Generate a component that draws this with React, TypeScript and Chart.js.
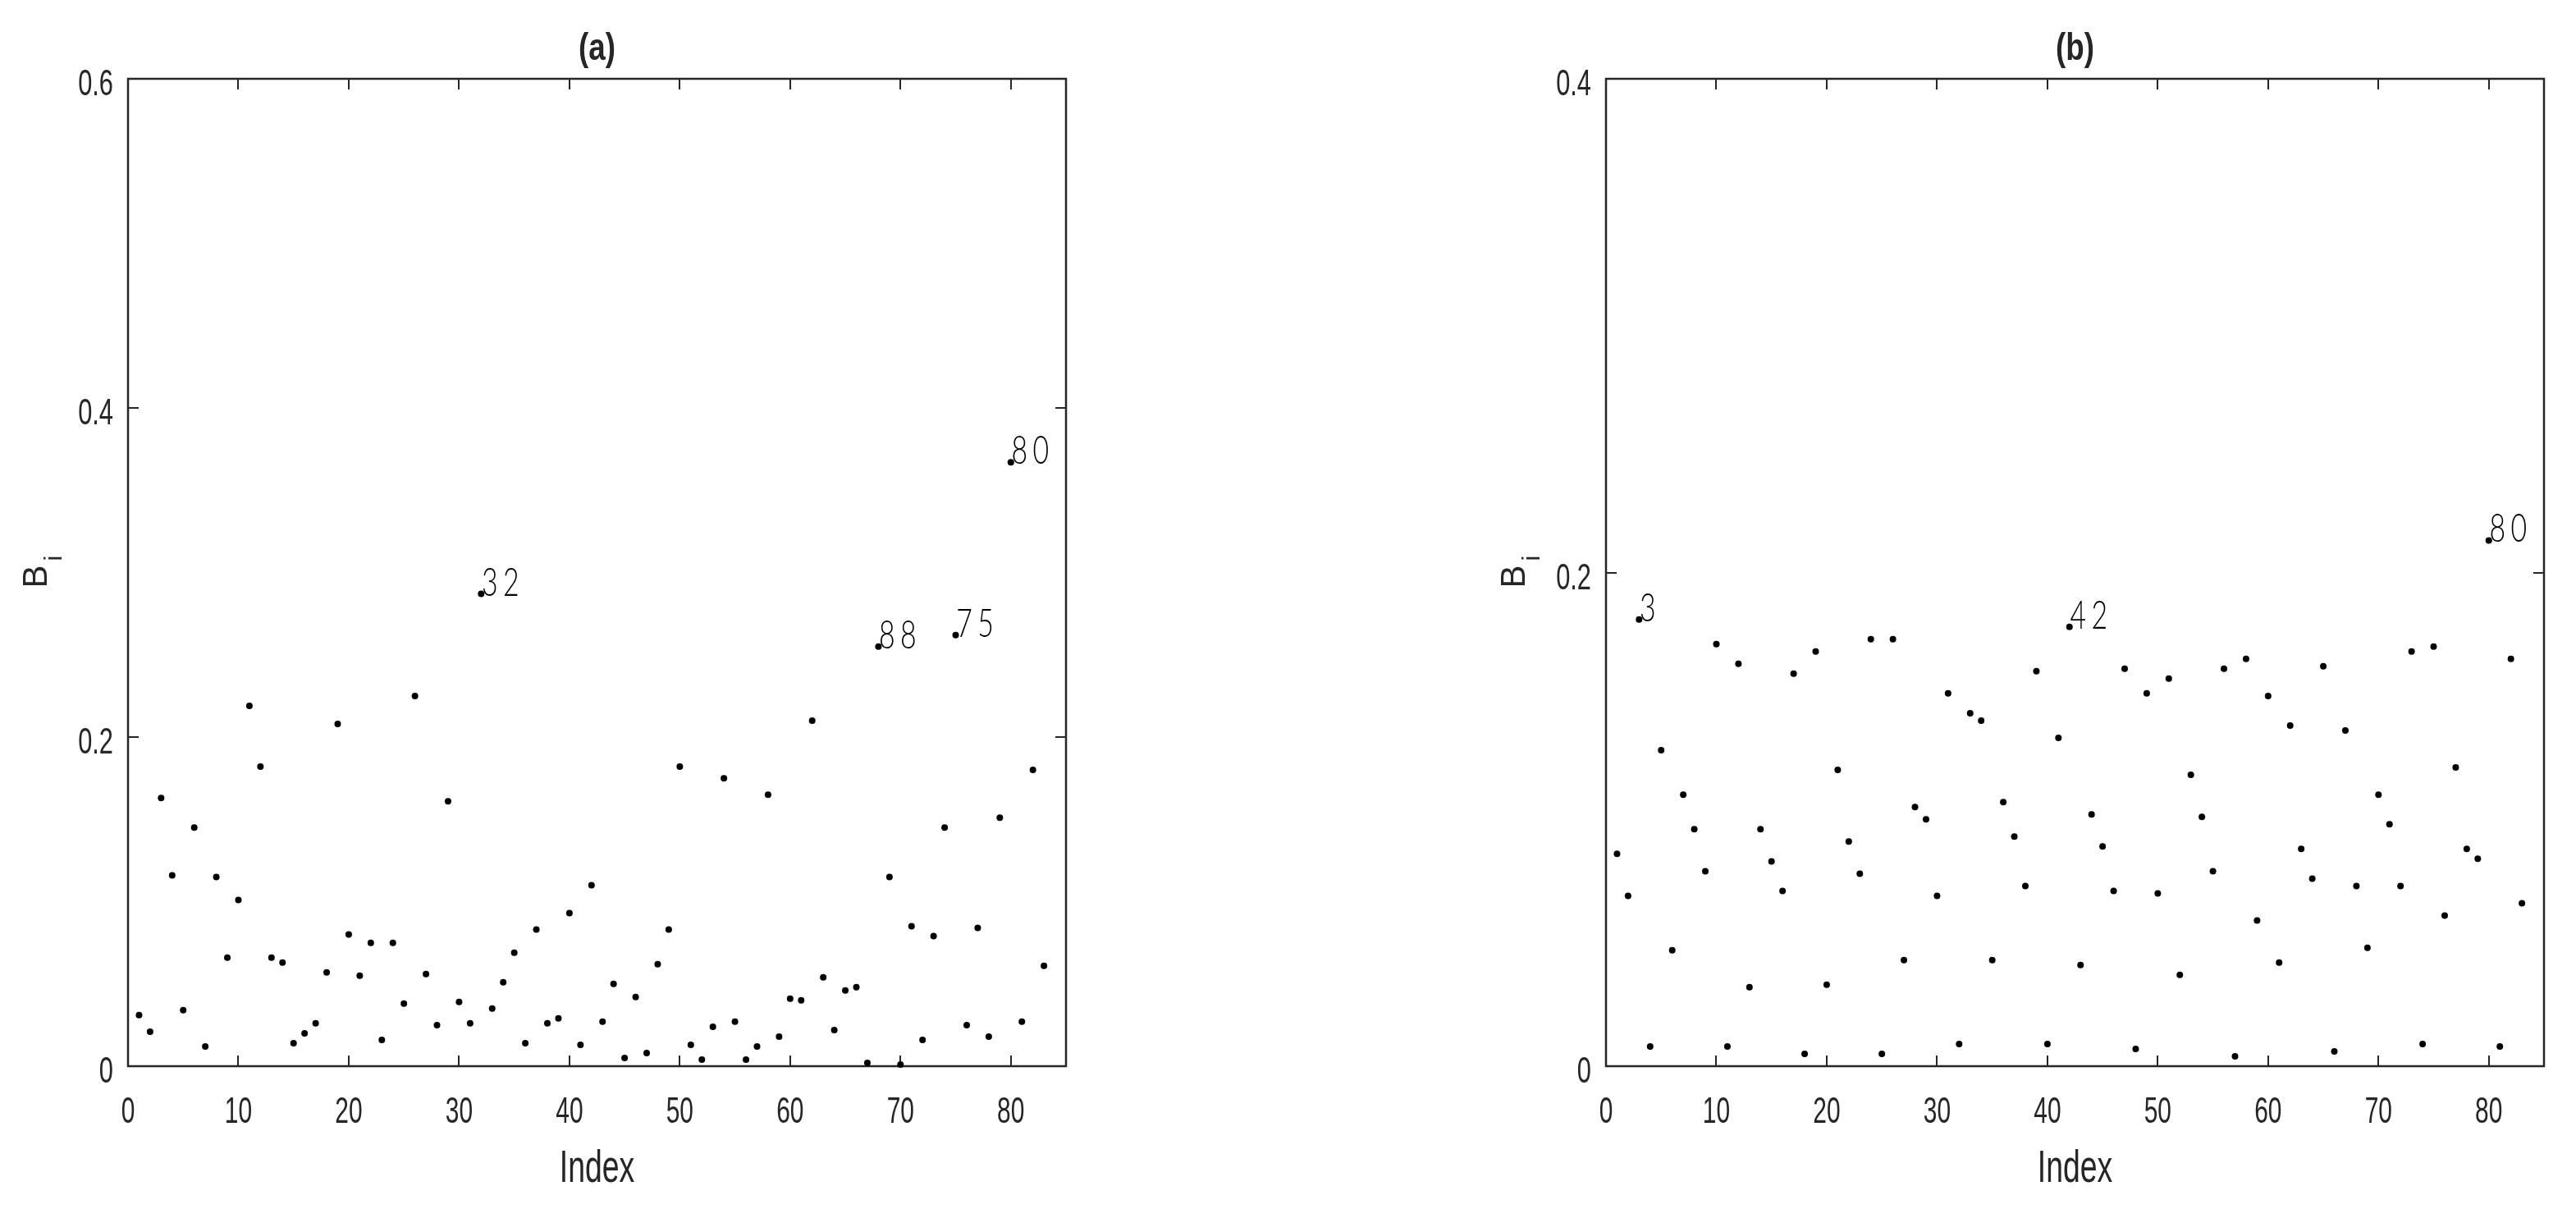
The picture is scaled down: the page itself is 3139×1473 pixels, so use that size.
import React, { useEffect, useRef } from 'react';
import { Chart, registerables } from 'chart.js';

Chart.register(...registerables);

// ---- data ----
const indices = [
  1, 2, 3, 4, 5, 6, 7, 8, 9, 10, 11, 12, 13, 14, 15, 16, 17, 18, 19, 20,
  21, 22, 23, 24, 25, 26, 27, 28, 29, 30, 31, 32, 33, 34, 35, 36, 37, 38, 39, 40,
  41, 42, 43, 44, 45, 46, 47, 48, 49, 50, 51, 52, 53, 54, 55, 56, 57, 58, 59, 60,
  61, 62, 63, 64, 65, 66, 67, 68, 69, 70, 71, 72, 73, 74, 75, 76, 77, 78, 79, 80,
  81, 82, 83,
];

const valuesA = [
  0.031, 0.021, 0.163, 0.116, 0.034, 0.145, 0.012, 0.115, 0.066, 0.101,
  0.219, 0.182, 0.066, 0.063, 0.014, 0.020, 0.026, 0.057, 0.208, 0.080,
  0.055, 0.075, 0.016, 0.075, 0.038, 0.225, 0.056, 0.025, 0.161, 0.039,
  0.026, 0.287, 0.035, 0.051, 0.069, 0.014, 0.083, 0.026, 0.029, 0.093,
  0.013, 0.110, 0.027, 0.050, 0.005, 0.042, 0.008, 0.062, 0.083, 0.182,
  0.013, 0.004, 0.024, 0.175, 0.027, 0.004, 0.012, 0.165, 0.018, 0.041,
  0.040, 0.210, 0.054, 0.022, 0.046, 0.048, 0.002, 0.255, 0.115, 0.001,
  0.085, 0.016, 0.079, 0.145, 0.262, 0.025, 0.084, 0.018, 0.151, 0.367,
  0.027, 0.180, 0.061,
];

const valuesB = [
  0.086, 0.069, 0.181, 0.008, 0.128, 0.047, 0.110, 0.096, 0.079, 0.171,
  0.008, 0.163, 0.032, 0.096, 0.083, 0.071, 0.159, 0.005, 0.168, 0.033,
  0.120, 0.091, 0.078, 0.173, 0.005, 0.173, 0.043, 0.105, 0.100, 0.069,
  0.151, 0.009, 0.143, 0.140, 0.043, 0.107, 0.093, 0.073, 0.160, 0.009,
  0.133, 0.178, 0.041, 0.102, 0.089, 0.071, 0.161, 0.007, 0.151, 0.070,
  0.157, 0.037, 0.118, 0.101, 0.079, 0.161, 0.004, 0.165, 0.059, 0.150,
  0.042, 0.138, 0.088, 0.076, 0.162, 0.006, 0.136, 0.073, 0.048, 0.110,
  0.098, 0.073, 0.168, 0.009, 0.170, 0.061, 0.121, 0.088, 0.084, 0.213,
  0.008, 0.165, 0.066,
];

const xTicks = [0, 10, 20, 30, 40, 50, 60, 70, 80];
const yTicksA = [0, 0.2, 0.4, 0.6];
const yTicksB = [0, 0.2, 0.4];

const notesAIndex = [32, 68, 75, 80];
const notesAText = ['32', '88', '75', '80'];
const notesBIndex = [3, 42, 80];
const notesBText = ['3', '42', '80'];

const titleA = '(a)';
const titleB = '(b)';
const xTitle = 'Index';
const yTitleMain = 'B';
const yTitleSub = 'i';

// ---- styling ----
const INK = '#262626';
const SANS = "'Liberation Sans', Arial, Helvetica, sans-serif";
const THIN = "Lato, 'DejaVu Sans', sans-serif";
const W = 3139;
const H = 1473;

function drawText(
  ctx: CanvasRenderingContext2D,
  text: string,
  x: number,
  y: number,
  font: string,
  align: CanvasTextAlign,
  sx: number
) {
  ctx.save();
  ctx.translate(x, y);
  ctx.scale(sx, 1);
  ctx.font = font;
  ctx.textAlign = align;
  ctx.textBaseline = 'alphabetic';
  ctx.fillText(text, 0, 0);
  ctx.restore();
}

function makeFramePlugin(yTicks: number[], title: string, values: number[], noteIdx: number[], noteText: string[]) {
  return {
    id: 'matlabFrame',
    beforeDatasetsDraw(chart: any) {
      const ctx: CanvasRenderingContext2D = chart.ctx;
      const { left, right, top, bottom } = chart.chartArea;
      const xs = chart.scales.x;
      const ys = chart.scales.y;
      ctx.save();
      ctx.strokeStyle = INK;
      ctx.fillStyle = INK;
      ctx.lineWidth = 2.5;
      ctx.beginPath();
      ctx.rect(left, top, right - left, bottom - top);
      ctx.stroke();

      const tl = 13;
      ctx.lineWidth = 2;
      ctx.beginPath();
      for (const t of xTicks) {
        const px = Math.round(xs.getPixelForValue(t));
        ctx.moveTo(px, bottom);
        ctx.lineTo(px, bottom - tl);
        ctx.moveTo(px, top);
        ctx.lineTo(px, top + tl);
      }
      for (const t of yTicks) {
        const py = Math.round(ys.getPixelForValue(t));
        ctx.moveTo(left, py);
        ctx.lineTo(left + tl, py);
        ctx.moveTo(right, py);
        ctx.lineTo(right - tl, py);
      }
      ctx.stroke();

      // tick labels
      const tickFont = `44px ${SANS}`;
      for (const t of xTicks) {
        const px = xs.getPixelForValue(t);
        drawText(ctx, String(t), px, bottom + 69, tickFont, 'center', 0.68);
      }
      for (const t of yTicks) {
        const py = ys.getPixelForValue(t);
        drawText(ctx, String(t), left - 18, py + 20, tickFont, 'right', 0.7);
      }

      // x title
      const cx = (left + right) / 2;
      drawText(ctx, xTitle, cx, bottom + 141, `55px ${SANS}`, 'center', 0.68);

      // title
      drawText(ctx, title, cx, 73, `bold 46px ${SANS}`, 'center', 0.8);

      // y title (rotated), B with subscript i
      const cy = (top + bottom) / 2;
      ctx.save();
      ctx.translate(left - 99, cy + 19);
      ctx.rotate(-Math.PI / 2);
      ctx.font = `42px ${SANS}`;
      ctx.textAlign = 'left';
      ctx.textBaseline = 'alphabetic';
      ctx.fillText(yTitleMain, 0, 0);
      ctx.font = `30px ${SANS}`;
      ctx.fillText(yTitleSub, 33, 18);
      ctx.restore();

      ctx.restore();
    },
    afterDatasetsDraw(chart: any) {
      const ctx: CanvasRenderingContext2D = chart.ctx;
      const xs = chart.scales.x;
      const ys = chart.scales.y;
      ctx.save();
      ctx.fillStyle = '#000';
      for (let k = 0; k < noteIdx.length; k++) {
        const idx = noteIdx[k];
        const px = xs.getPixelForValue(idx);
        const py = ys.getPixelForValue(values[idx - 1]);
        const chars = noteText[k].split('');
        chars.forEach((c, i) => {
          drawText(ctx, c, px + 10.5 + i * 26, py + 2, `300 47px ${THIN}`, 'center', 0.72);
        });
      }
      ctx.restore();
    },
  };
}

type PanelProps = {
  canvasLeft: number;
  canvasWidth: number;
  padLeft: number;
  padRight: number;
  values: number[];
  yMax: number;
  yTicks: number[];
  title: string;
  noteIdx: number[];
  noteText: string[];
};

function Panel(p: PanelProps) {
  const ref = useRef<HTMLCanvasElement | null>(null);
  useEffect(() => {
    if (!ref.current) return;
    const data = indices.map((ix, i) => ({ x: ix, y: p.values[i] }));
    const chart = new Chart(ref.current, {
      type: 'scatter',
      data: {
        datasets: [
          {
            data,
            pointRadius: 4,
            pointBackgroundColor: '#000',
            pointBorderWidth: 0,
            borderColor: '#000',
            showLine: false,
            clip: false as any,
          },
        ],
      },
      options: {
        animation: false,
        responsive: false,
        maintainAspectRatio: false,
        devicePixelRatio: 1,
        layout: { padding: { left: p.padLeft, right: p.padRight, top: 96, bottom: H - 1299 } },
        plugins: { legend: { display: false }, tooltip: { enabled: false }, title: { display: false } },
        scales: {
          x: { type: 'linear', min: 0, max: 85, display: false },
          y: { type: 'linear', min: 0, max: p.yMax, display: false },
        },
      },
      plugins: [makeFramePlugin(p.yTicks, p.title, p.values, p.noteIdx, p.noteText)],
    } as any);
    return () => chart.destroy();
  }, []);
  return (
    <canvas
      ref={ref}
      width={p.canvasWidth}
      height={H}
      style={{ position: 'absolute', left: p.canvasLeft, top: 0, width: p.canvasWidth, height: H }}
    />
  );
}

export default function App() {
  return (
    <div style={{ position: 'absolute', left: 0, top: 0, width: W, height: H, background: '#fff', overflow: 'hidden' }}>
      <Panel
        canvasLeft={0}
        canvasWidth={1500}
        padLeft={156}
        padRight={1500 - 1299}
        values={valuesA}
        yMax={0.6}
        yTicks={yTicksA}
        title={titleA}
        noteIdx={notesAIndex}
        noteText={notesAText}
      />
      <Panel
        canvasLeft={1700}
        canvasWidth={W - 1700}
        padLeft={1957 - 1700}
        padRight={W - 3100}
        values={valuesB}
        yMax={0.4}
        yTicks={yTicksB}
        title={titleB}
        noteIdx={notesBIndex}
        noteText={notesBText}
      />
    </div>
  );
}
